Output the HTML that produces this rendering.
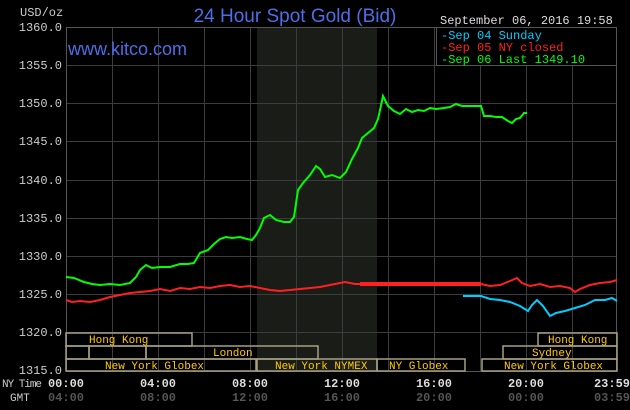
<!DOCTYPE html>
<html><head><style>
body{margin:0;background:#000;width:630px;height:410px;overflow:hidden}
svg{display:block}
.m{font-family:"Liberation Mono",monospace;font-size:12px}
.s{font-family:"Liberation Mono",monospace;font-size:11px}
</style></head><body>
<svg width="630" height="410" xmlns="http://www.w3.org/2000/svg">
<rect width="630" height="410" fill="#000"/>
<rect x="257" y="27" width="120" height="344" fill="#1a1c18"/>
<g stroke="#3c3c3c" stroke-width="1">
<line x1="66" y1="65.5" x2="617" y2="65.5"/><line x1="66" y1="103.5" x2="617" y2="103.5"/>
<line x1="66" y1="141.5" x2="617" y2="141.5"/><line x1="66" y1="180.5" x2="617" y2="180.5"/>
<line x1="66" y1="218.5" x2="617" y2="218.5"/><line x1="66" y1="256.5" x2="617" y2="256.5"/>
<line x1="66" y1="294.5" x2="617" y2="294.5"/><line x1="66" y1="332.5" x2="617" y2="332.5"/>
<line x1="112.5" y1="27" x2="112.5" y2="371"/><line x1="158.5" y1="27" x2="158.5" y2="371"/>
<line x1="204.5" y1="27" x2="204.5" y2="371"/><line x1="250.5" y1="27" x2="250.5" y2="371"/>
<line x1="296.5" y1="27" x2="296.5" y2="371"/><line x1="342.5" y1="27" x2="342.5" y2="371"/>
<line x1="388.5" y1="27" x2="388.5" y2="371"/><line x1="434.5" y1="27" x2="434.5" y2="371"/>
<line x1="480.5" y1="27" x2="480.5" y2="371"/><line x1="526.5" y1="27" x2="526.5" y2="371"/>
<line x1="572.5" y1="27" x2="572.5" y2="371"/>
</g>
<rect x="66.5" y="27.5" width="550" height="344" fill="none" stroke="#555"/>
<rect x="436.5" y="27.5" width="180" height="38" fill="#000" stroke="#555"/>
<text x="441" y="39" class="m" fill="#00ccff">-Sep 04 Sunday</text>
<text x="441" y="51" class="m" fill="#ff2020">-Sep 05 NY closed</text>
<text x="441" y="63" class="m" fill="#00ff00">-Sep 06 Last 1349.10</text>
<text x="440" y="24" class="m" fill="#ddd">September 06, 2016 19:58</text>
<text x="20" y="16" class="m" fill="#ccc">USD/oz</text>
<text x="295" y="22" font-family="Liberation Sans,sans-serif" font-size="19" fill="#4d6ee8" text-anchor="middle">24 Hour Spot Gold (Bid)</text>
<text x="68" y="55" font-family="Liberation Sans,sans-serif" font-size="18" fill="#4d6ee8">www.kitco.com</text>
<g class="m" fill="#ccc" text-anchor="end">
<text x="62" y="31">1360.0</text><text x="62" y="69">1355.0</text><text x="62" y="107">1350.0</text>
<text x="62" y="145">1345.0</text><text x="62" y="184">1340.0</text><text x="62" y="222">1335.0</text>
<text x="62" y="260">1330.0</text><text x="62" y="298">1325.0</text><text x="62" y="336">1320.0</text>
<text x="62" y="374">1315.0</text></g>
<g fill="none" stroke="#a8a080" stroke-width="1.5">
<rect x="66" y="333" width="126" height="13"/><rect x="538" y="333" width="79" height="13"/>
<rect x="66" y="346" width="23" height="13"/><rect x="89" y="346" width="57" height="13"/><rect x="146" y="346" width="172" height="13"/>
<rect x="503" y="346" width="114" height="13"/>
<rect x="66" y="359" width="190" height="12"/><rect x="257" y="359" width="120" height="12"/><rect x="377" y="359" width="88" height="12"/><rect x="482" y="359" width="135" height="12"/>
</g>
<g class="s" fill="#ffcc00">
<text x="89" y="343">Hong Kong</text><text x="548" y="343">Hong Kong</text>
<text x="213" y="356">London</text><text x="532" y="356">Sydney</text>
<text x="105" y="369">New York Globex</text><text x="275" y="369">New York NYMEX</text>
<text x="389" y="369">NY Globex</text><text x="504" y="369">New York Globex</text></g>
<g class="s" fill="#ccc"><text x="2" y="387" textLength="40">NY Time</text><text x="10" y="401">GMT</text></g>
<g class="m" text-anchor="middle" fill="#ddd" font-weight="bold">
<text x="66" y="387">00:00</text><text x="158" y="387">04:00</text><text x="250" y="387">08:00</text>
<text x="342" y="387">12:00</text><text x="434" y="387">16:00</text><text x="526" y="387">20:00</text><text x="612" y="387">23:59</text></g>
<g class="m" text-anchor="middle" fill="#555" font-weight="bold">
<text x="66" y="401">04:00</text><text x="158" y="401">08:00</text><text x="250" y="401">12:00</text>
<text x="342" y="401">16:00</text><text x="434" y="401">20:00</text><text x="526" y="401">00:00</text><text x="612" y="401">03:59</text></g>
<polyline fill="none" stroke="#ff2020" stroke-width="2" points="66,300 72,302 80,301 90,302 100,300 110,297 120,295 130,293 140,292 150,291 160,289 170,291 180,288 190,289 200,287 210,288 220,286 230,285 240,287 250,286 260,288 270,290 280,291 290,290 300,289 310,288 320,287 330,285 340,283 345,282 355,284 365,284 400,284 440,284 481,284"/>
<polyline fill="none" stroke="#ff2020" stroke-width="4" points="360,284 481,284"/>
<polyline fill="none" stroke="#ff2020" stroke-width="2" points="481,284 490,286 500,285 510,281 517,278 522,283 530,286 540,284 550,287 560,286 570,288 575,292 580,289 590,285 600,283 610,282 617,280"/>
<polyline fill="none" stroke="#00ccff" stroke-width="2" points="463,296 481,296 490,299 500,300 510,302 520,306 528,311 532,305 537,300 543,306 550,316 556,313 565,311 575,308 585,305 595,300 605,300 612,298 617,301"/>
<polyline fill="none" stroke="#00ff00" stroke-width="2" points="66,277 74,278 84,282 92,284 100,285 110,284 120,285 130,283 136,277 140,270 146,265 152,268 160,267 170,267 180,264 188,264 194,263 200,253 208,250 214,244 220,239 226,237 232,238 240,237 247,239 252,240 256,235 260,228 264,218 270,215 276,220 284,222 290,222 294,217 298,190 303,183 310,175 316,166 320,169 325,177 332,175 340,178 346,172 352,159 358,148 362,138 368,133 374,128 378,119 380,110 383,96 388,106 394,111 400,114 406,109 412,112 418,110 424,111 430,108 436,109 444,108 450,107 456,104 462,106 470,106 478,106 481,106 484,116 490,116 496,117 502,117 508,121 512,123 516,119 520,118 524,113 527,113"/>
</svg>
</body></html>
